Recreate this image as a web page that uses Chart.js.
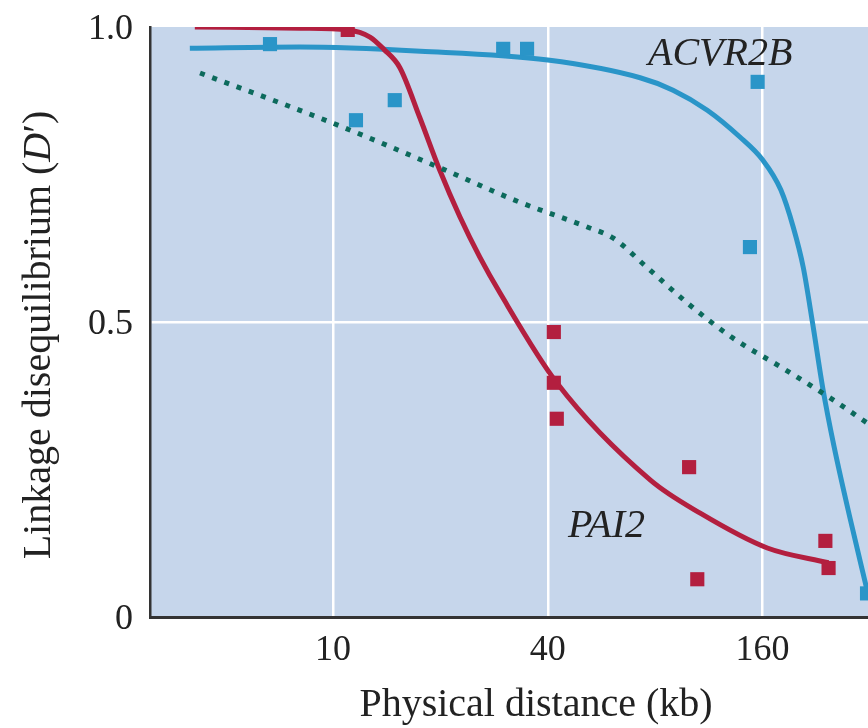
<!DOCTYPE html>
<html>
<head>
<meta charset="utf-8">
<script src="https://cdn.jsdelivr.net/npm/chart.js@4"></script>
<style>
	html, body { margin: 0; padding: 0; background: white; overflow: hidden; }
	canvas { display: block; }
</style>
</head>
<body>
<canvas id="Graphe" width="868" height="728"></canvas>
<script>
// x = physical distance (kb), y = D'
var xTicks = [10, 40, 160];
var yTicks = [0, 0.5, 1.0];
var yTickLabels = ['0', '0.5', '1.0'];

var bluePtsX = [6.66, 11.6, 14.9, 30.0, 35.0, 155, 147.5, 314];
var bluePtsY = [0.971, 0.842, 0.876, 0.963, 0.963, 0.907, 0.627, 0.04];

var redPtsX = [11.0, 41.6, 41.6, 42.4, 99.6, 105, 240, 245];
var redPtsY = [0.995, 0.483, 0.397, 0.336, 0.254, 0.064, 0.129, 0.083];

var redCurveX = [4.1, 8.1, 11.0, 12.7, 13.9, 15.4, 17.5, 19.9, 22.7, 25.8, 29.4, 42.4, 77.6, 107, 165, 245];
var redCurveY = [1.0, 0.998, 0.995, 0.983, 0.962, 0.931, 0.847, 0.758, 0.678, 0.610, 0.549, 0.397, 0.232, 0.176, 0.117, 0.092];

var blueCurveX = [3.97, 8.08, 17.6, 40.0, 72.6, 89.8, 112, 138, 160, 180, 195, 208, 221, 236, 254, 281, 314];
var blueCurveY = [0.964, 0.966, 0.959, 0.944, 0.914, 0.893, 0.859, 0.814, 0.775, 0.724, 0.661, 0.593, 0.498, 0.388, 0.288, 0.169, 0.046];

var dotX = [4.24, 10, 20.0, 33.4, 51.6, 61.1, 75.1, 99, 132, 182, 248, 314];
var dotY = [0.922, 0.837, 0.761, 0.703, 0.661, 0.642, 0.595, 0.531, 0.473, 0.422, 0.371, 0.329];

var BLUE = '#2a95c8';
var RED = '#b31f3f';
var TEAL = '#0c6a5c';
var INK = '#222222';
var SERIF = '"Liberation Serif", "DejaVu Serif", serif';

function pts(xs, ys) {
	var out = [];
	for (var i = 0; i < xs.length; i++) {
		out.push({ x: xs[i], y: ys[i] });
	}
	return out;
}

// fond bleu + titres + noms des genes
var decor = {
	id: 'decor',
	beforeDraw: function (chart) {
		var a = chart.chartArea;
		var ctx = chart.ctx;
		ctx.save();
		ctx.fillStyle = '#c6d6eb';
		ctx.fillRect(a.left, a.top, a.right - a.left, a.bottom - a.top);
		ctx.restore();
	},
	afterDraw: function (chart) {
		var ctx = chart.ctx;
		ctx.save();
		ctx.fillStyle = INK;
		ctx.textBaseline = 'alphabetic';

		// x title
		ctx.font = '40px ' + SERIF;
		ctx.textAlign = 'center';
		ctx.fillText('Physical distance (kb)', 536, 716);

		// y title, with italic D
		var p1 = 'Linkage disequilibrium (';
		var p2 = 'D';
		var p3 = '\u2032)';
		ctx.font = '40px ' + SERIF;
		var w1 = ctx.measureText(p1).width;
		var w3 = ctx.measureText(p3).width;
		ctx.font = 'italic 40px ' + SERIF;
		var w2 = ctx.measureText(p2).width;
		var total = w1 + w2 + w3;
		ctx.translate(50, 335);
		ctx.rotate(-Math.PI / 2);
		ctx.textAlign = 'left';
		var sx = -total / 2;
		ctx.font = '40px ' + SERIF;
		ctx.fillText(p1, sx, 0);
		ctx.font = 'italic 40px ' + SERIF;
		ctx.fillText(p2, sx + w1, 0);
		ctx.font = '40px ' + SERIF;
		ctx.fillText(p3, sx + w1 + w2, 0);
		ctx.restore();

		ctx.save();
		ctx.fillStyle = INK;
		ctx.font = 'italic 40px ' + SERIF;
		ctx.textAlign = 'left';
		ctx.fillText('ACVR2B', 648, 65);
		ctx.fillText('PAI2', 568, 537);
		ctx.restore();
	}
};

var chart = new Chart(document.getElementById('Graphe'), {
	type: 'line',
	data: {
		datasets: [
			{
				label: 'ACVR2B points',
				data: pts(bluePtsX, bluePtsY),
				showLine: false,
				pointStyle: 'rect',
				pointRadius: 10,
				pointBackgroundColor: BLUE,
				pointBorderWidth: 0,
				order: 0
			},
			{
				label: 'PAI2 points',
				data: pts(redPtsX, redPtsY),
				showLine: false,
				pointStyle: 'rect',
				pointRadius: 10,
				pointBackgroundColor: RED,
				pointBorderWidth: 0,
				order: 0
			},
			{
				label: 'moyenne',
				data: pts(dotX, dotY),
				borderColor: TEAL,
				borderWidth: 5,
				borderDash: [5, 8],
				borderCapStyle: 'butt',
				pointRadius: 0,
				cubicInterpolationMode: 'monotone',
				order: 1
			},
			{
				label: 'PAI2',
				data: pts(redCurveX, redCurveY),
				borderColor: RED,
				borderWidth: 5,
				pointRadius: 0,
				cubicInterpolationMode: 'monotone',
				order: 2
			},
			{
				label: 'ACVR2B',
				data: pts(blueCurveX, blueCurveY),
				borderColor: BLUE,
				borderWidth: 5,
				pointRadius: 0,
				cubicInterpolationMode: 'monotone',
				order: 3
			}
		]
	},
	options: {
		responsive: false,
		animation: false,
		layout: { autoPadding: false, padding: { top: 27, left: 0, right: 0, bottom: 0 } },
		plugins: {
			legend: { display: false },
			tooltip: { enabled: false }
		},
		scales: {
			x: {
				type: 'logarithmic',
				min: 3.07,
				max: 316,
				afterBuildTicks: function (scale) {
					scale.ticks = xTicks.map(function (v) { return { value: v }; });
				},
				afterFit: function (scale) {
					scale.height = 111;
					scale.paddingLeft = 0;
					scale.paddingRight = 0;
				},
				ticks: {
					color: INK,
					font: { family: SERIF, size: 36 },
					padding: 12,
					maxRotation: 0,
					autoSkip: false,
					callback: function (v) { return String(v); }
				},
				grid: {
					color: 'white',
					lineWidth: 2.5,
					drawTicks: false
				},
				border: { color: '#333333', width: 3 }
			},
			y: {
				type: 'linear',
				min: 0,
				max: 1,
				afterBuildTicks: function (scale) {
					scale.ticks = yTicks.map(function (v) { return { value: v }; });
				},
				afterFit: function (scale) {
					scale.width = 150;
					scale.paddingTop = 0;
					scale.paddingBottom = 0;
				},
				ticks: {
					color: INK,
					font: { family: SERIF, size: 36 },
					padding: 17,
					labelOffset: 3,
					callback: function (v, i) { return yTickLabels[i]; }
				},
				grid: {
					color: function (c) { return c.tick && c.tick.value === 0.5 ? 'white' : 'rgba(0,0,0,0)'; },
					lineWidth: 2.5,
					drawTicks: false
				},
				border: { color: '#333333', width: 2.5 }
			}
		}
	},
	plugins: [decor]
});
</script>
</body>
</html>
